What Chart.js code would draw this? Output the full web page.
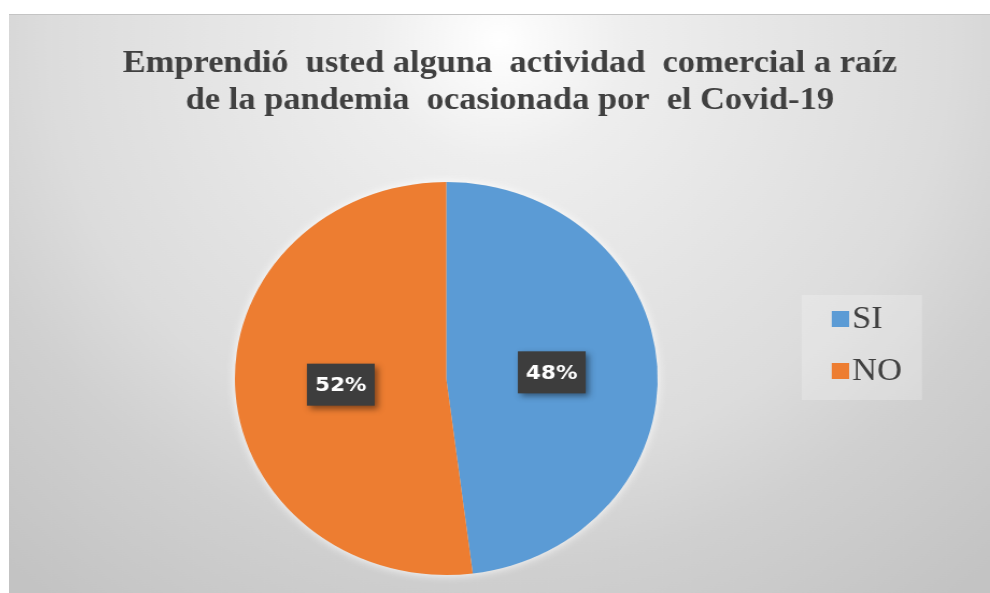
<!DOCTYPE html>
<html>
<head>
<meta charset="utf-8">
<script src="https://cdn.jsdelivr.net/npm/chart.js@4.4.1/dist/chart.umd.min.js"></script>
<style>
  html, body { margin: 0; padding: 0; background: #fff; overflow: hidden; }
  #wrap {
    position: absolute; left: 9px; top: 14px;
    width: 912px; height: 579px;
    transform: scaleX(1.0757); transform-origin: 0 0;
  }
</style>
</head>
<body>
<div id="wrap"><canvas id="chart"></canvas></div>
<script>
const titleLines = ['Emprendió  usted alguna  actividad  comercial a raíz', 'de la pandemia  ocasionada por  el Covid-19'];
const categories = ['SI', 'NO'];
const percentages = [48, 52];
const sliceColors = ['#5b9bd5', '#ed7d31'];

const serifFamily = "'Liberation Serif', 'Times New Roman', serif";

// legend marks: square sitting at the right end of a wider transparent strip,
// so it ends up right next to the label text
const legendMarks = sliceColors.map(color => {
    const c = document.createElement('canvas');
    c.width = 52;
    c.height = 16;
    const g = c.getContext('2d');
    g.fillStyle = color;
    g.fillRect(36, 0, 16, 16);
    return c;
});

// grey radial backdrop plus the lighter legend panel
const backdrop = {
    id: 'backdrop',
    beforeDraw(chart) {
        const {ctx, width, height, legend} = chart;
        ctx.save();
        const g = ctx.createRadialGradient(456, 26, 0, 456, 26, 700);
        g.addColorStop(0, '#ffffff');
        g.addColorStop(0.17, '#eeeeee');
        g.addColorStop(0.6, '#dcdcdc');
        g.addColorStop(0.75, '#d0d0d0');
        g.addColorStop(1, '#c3c3c3');
        ctx.fillStyle = g;
        ctx.fillRect(0, 0, width, height);
        ctx.fillStyle = '#c4c4c4';
        ctx.fillRect(0, 0, width, 1);
        ctx.fillStyle = 'rgba(255,255,255,0.22)';
        ctx.fillRect(legend.left + 15, legend.top + 281, 112, 105);
        ctx.restore();
    }
};

// soft light halo around the pie
const halo = {
    id: 'halo',
    beforeDatasetsDraw(chart) {
        const arc = chart.getDatasetMeta(0).data[0];
        if (!arc) return;
        const {ctx} = chart;
        ctx.save();
        ctx.shadowColor = 'rgba(255,255,255,0.95)';
        ctx.shadowBlur = 10;
        ctx.fillStyle = '#e6e6e6';
        ctx.beginPath();
        ctx.arc(arc.x, arc.y, arc.outerRadius, 0, Math.PI * 2);
        ctx.fill();
        ctx.restore();
    }
};

// dark boxed percentage labels
const boxLabels = {
    id: 'boxLabels',
    afterDatasetsDraw(chart) {
        const {ctx} = chart;
        const values = chart.data.datasets[0].data;
        ctx.save();
        ctx.font = 'bold 20px "DejaVu Sans"';
        ctx.textAlign = 'center';
        ctx.textBaseline = 'middle';
        chart.getDatasetMeta(0).data.forEach((arc, i) => {
            const {x, y} = arc.tooltipPosition();
            const w = 63, h = 42;
            ctx.save();
            ctx.shadowColor = 'rgba(0,0,0,0.45)';
            ctx.shadowBlur = 6;
            ctx.shadowOffsetX = 3;
            ctx.shadowOffsetY = 3;
            ctx.fillStyle = '#3d3d3d';
            ctx.fillRect(x - w / 2, y - h / 2, w, h);
            ctx.restore();
            ctx.fillStyle = '#ffffff';
            ctx.fillText(values[i] + '%', x, y + 1);
        });
        ctx.restore();
    }
};

new Chart(document.getElementById('chart'), {
    type: 'pie',
    data: {
        labels: categories,
        datasets: [{
            data: percentages,
            backgroundColor: sliceColors,
            borderWidth: 0
        }]
    },
    options: {
        responsive: true,
        maintainAspectRatio: false,
        animation: false,
        layout: { padding: { left: 91.2, right: 72, top: 0, bottom: 18 } },
        plugins: {
            title: {
                display: true,
                text: titleLines,
                color: '#404040',
                font: { family: serifFamily, size: 32, weight: 'bold', lineHeight: 1.147 },
                padding: { top: 31.8, bottom: 62.8 }
            },
            legend: {
                position: 'right',
                align: 'start',
                title: { display: true, text: '', padding: { top: 254.8, bottom: 0 } },
                labels: {
                    color: '#404040',
                    font: { family: serifFamily, size: 32 },
                    usePointStyle: true,
                    pointStyleWidth: 26,
                    boxHeight: 16,
                    padding: 20,
                    generateLabels(chart) {
                        const items = Chart.overrides.pie.plugins.legend.labels.generateLabels(chart);
                        items.forEach((item, i) => { item.pointStyle = legendMarks[i]; });
                        return items;
                    }
                }
            },
            tooltip: { enabled: false }
        }
    },
    plugins: [backdrop, halo, boxLabels]
});
</script>
</body>
</html>
